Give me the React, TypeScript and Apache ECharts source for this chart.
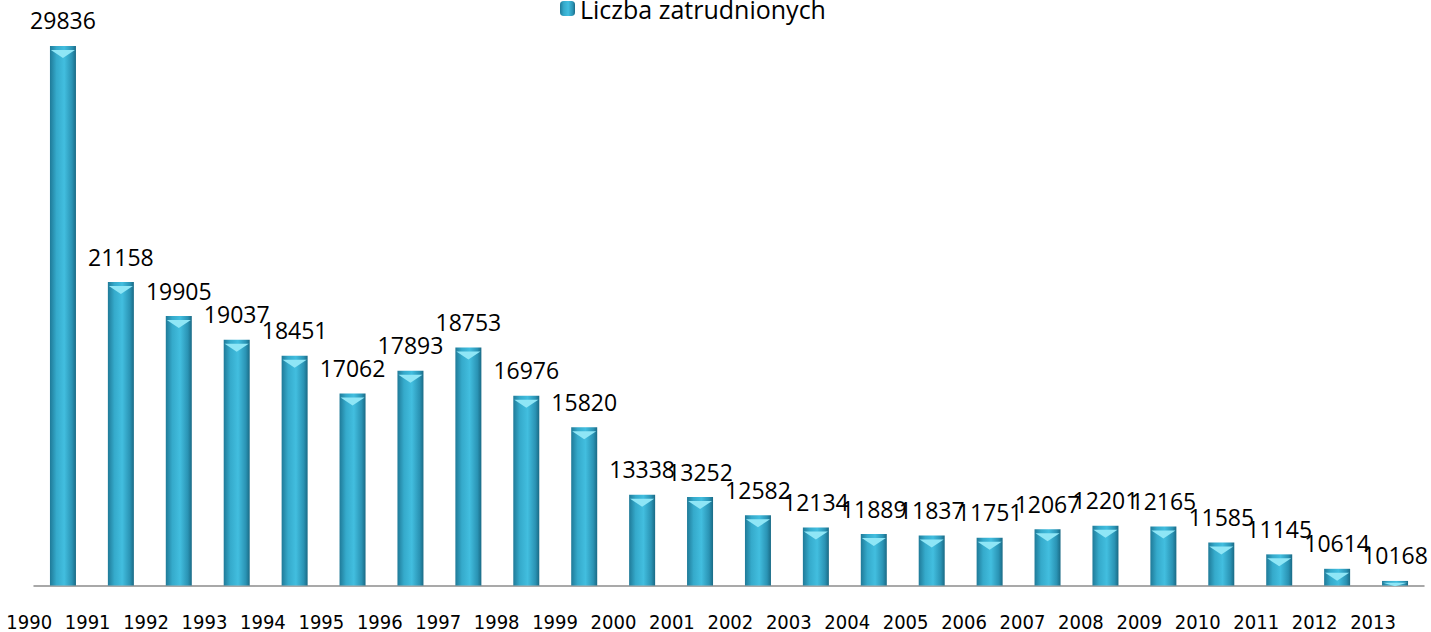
import React, { useEffect, useRef } from "react";
import * as echarts from "echarts";

const categories = [
  "1990", "1991", "1992", "1993", "1994", "1995", "1996", "1997", "1998", "1999",
  "2000", "2001", "2002", "2003", "2004", "2005", "2006", "2007", "2008", "2009",
  "2010", "2011", "2012", "2013",
];
const employed = [
  29836, 21158, 19905, 19037, 18451, 17062, 17893, 18753, 16976, 15820,
  13338, 13252, 12582, 12134, 11889, 11837, 11751, 12067, 12201, 12165,
  11585, 11145, 10614, 10168,
];
const seriesName = "Liczba zatrudnionych";
const axisMin = 10000;
const axisMax = 30000;

export default function App() {
  const ref = useRef<HTMLDivElement>(null);
  useEffect(() => {
    if (!ref.current) return;
    const chart = echarts.init(ref.current, null, { renderer: "svg" });
    const barGradient = new echarts.graphic.LinearGradient(0, 0, 1, 0, [
      { offset: 0, color: "#1f7a98" },
      { offset: 0.25, color: "#35aacb" },
      { offset: 0.55, color: "#42bedf" },
      { offset: 0.85, color: "#2a93b4" },
      { offset: 1, color: "#1a6a85" },
    ]);
    const plotHeight = 632 - 41.5 - 46.5;
    const pxPerUnit = plotHeight / (axisMax - axisMin);
    const capData = employed.map((v) => {
      const h = Math.min(8, Math.max(1, (v - axisMin) * pxPerUnit - 1));
      return { value: v, symbolSize: [24, h] };
    });
    const option = {
      animation: false,
      backgroundColor: "#ffffff",
      legend: {
        data: [{ name: seriesName, icon: "roundRect" }],
        left: 555,
        top: -9,
        itemWidth: 15,
        itemHeight: 15,
        itemGap: 8,
        textStyle: { fontFamily: "Open Sans", fontSize: 25, color: "#000" },
      },
      grid: [
        { left: 34, right: 7, top: 41.5, bottom: 46.5 },
        { left: -1.75, right: 28.75, top: 41.5, bottom: 46.5 },
      ],
      xAxis: [
        {
          type: "category",
          gridIndex: 0,
          data: categories,
          axisLine: { show: true, lineStyle: { color: "#8c8c8c", width: 1.5 } },
          axisTick: { show: false },
          axisLabel: { show: false },
        },
        {
          type: "category",
          gridIndex: 1,
          data: categories,
          axisLine: { show: false },
          axisTick: { show: false },
          axisLabel: {
            show: true,
            interval: 0,
            margin: 26,
            fontFamily: "DejaVu Sans Condensed, Open Sans",
            fontSize: 20,
            color: "#000",
          },
        },
      ],
      yAxis: [
        { type: "value", gridIndex: 0, min: axisMin, max: axisMax, show: false },
        { type: "value", gridIndex: 1, min: 0, max: 1, show: false },
      ],
      series: [
        {
          name: seriesName,
          type: "bar",
          xAxisIndex: 0,
          yAxisIndex: 0,
          data: employed,
          barWidth: 26,
          itemStyle: { color: barGradient },
          label: {
            show: true,
            position: "top",
            distance: 14,
            fontFamily: "Open Sans",
            fontSize: 23,
            color: "#000",
          },
        },
        {
          name: "cap",
          type: "pictorialBar",
          xAxisIndex: 0,
          yAxisIndex: 0,
          data: capData,
          symbol: "path://M0,0 L26,0 L13,8 Z",
          symbolPosition: "end",
          symbolOffset: [0, "50%"],
          itemStyle: { color: "#8fe6f6" },
          z: 3,
          silent: true,
        },
      ],
    };
    chart.setOption(option);
    return () => chart.dispose();
  }, []);
  return (
    <div
      ref={ref}
      style={{ position: "fixed", left: 0, top: 0, width: 1431, height: 632 }}
    />
  );
}
